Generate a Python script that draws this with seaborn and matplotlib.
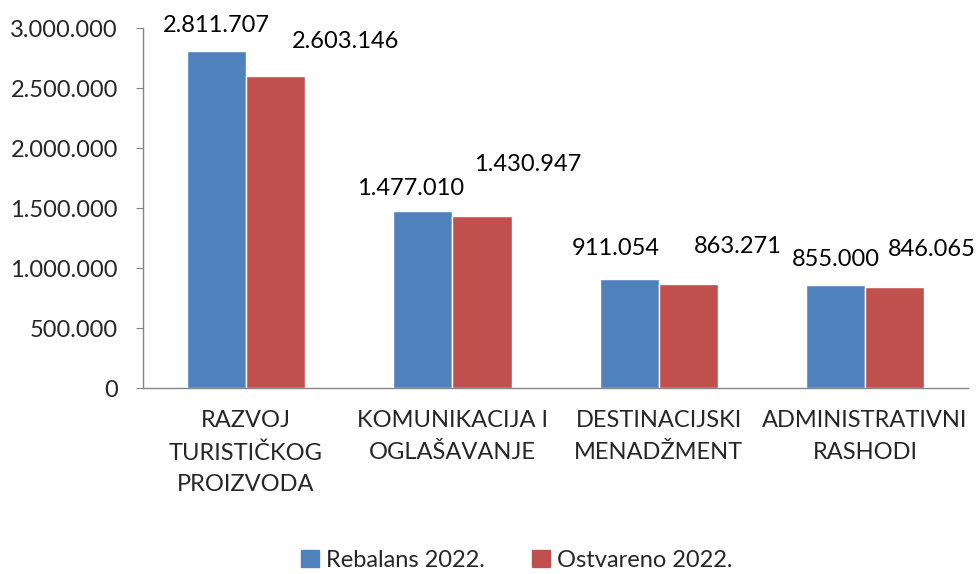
import matplotlib
matplotlib.use("Agg")
import matplotlib.pyplot as plt
import seaborn as sns
import pandas as pd

# podaci
categories = ["RAZVOJ\nTURISTIČKOG\nPROIZVODA", "KOMUNIKACIJA I\nOGLAŠAVANJE",
              "DESTINACIJSKI\nMENADŽMENT", "ADMINISTRATIVNI\nRASHODI"]
series_names = ["Rebalans 2022.", "Ostvareno 2022."]
rebalans = [2811707, 1477010, 911054, 855000]
ostvareno = [2603146, 1430947, 863271, 846065]
yticks = [0, 500000, 1000000, 1500000, 2000000, 2500000, 3000000]

colors = ["#4f81bd", "#c0504d"]

df = pd.DataFrame({
    "kategorija": categories * 2,
    "serija": [series_names[0]] * 4 + [series_names[1]] * 4,
    "iznos": rebalans + ostvareno,
})

def fmt(v):
    return f"{v:,.0f}".replace(",", ".")

sns.set_style("white")
plt.rcParams["font.family"] = ["Lato", "DejaVu Sans"]
FS = 17

fig = plt.figure(figsize=(9.79, 5.74), dpi=100)
ax = fig.add_axes([0.146, 0.324, 0.843, 0.627])

sns.barplot(data=df, x="kategorija", y="iznos", hue="serija", order=categories,
            hue_order=series_names, palette=colors, width=0.573, gap=0,
            saturation=1, ax=ax, legend=False)

ax.set_ylim(0, 3000000)
ax.set_xlim(-0.5, 3.5)
ax.set_yticks(yticks)
ax.set_yticklabels([fmt(t) for t in yticks], fontsize=FS)
ax.set_xlabel("")
ax.set_ylabel("")

# oznake vrijednosti (ručno pomaknute kao u originalu), u točkama
offsets = [[(0, 18), (50, 25)], [(-9, 16), (33, 37)],
           [(-10, 22), (36, 27)], [(0, 19), (27, 27)]]
for j, cont in enumerate(ax.containers):
    for i, bar in enumerate(cont):
        dx, dy = offsets[i][j]
        ax.annotate(fmt(bar.get_height()),
                    (bar.get_x() + bar.get_width() / 2, bar.get_height()),
                    xytext=(dx, dy), textcoords="offset points",
                    ha="center", va="center", fontsize=FS, color="black",
                    annotation_clip=False)

# osi
for s in ["top", "right"]:
    ax.spines[s].set_visible(False)
for s in ["left", "bottom"]:
    ax.spines[s].set_color("#868686")
    ax.spines[s].set_linewidth(1.0)

ax.set_xticks([0, 1, 2, 3])
ax.set_xticklabels(categories, fontsize=FS, linespacing=1.62)
ax.set_xticks([-0.5, 0.5, 1.5, 2.5, 3.5], minor=True)
ax.tick_params(axis="x", which="major", length=0, pad=16)
ax.tick_params(axis="x", which="minor", length=6, color="#868686", direction="out")
ax.tick_params(axis="y", length=5, color="#868686", direction="out", left=True, pad=13)

handles = [plt.Rectangle((0, 0), 1, 1, color=c) for c in colors]
fig.legend(handles, series_names, loc="center", bbox_to_anchor=(0.528, 0.024),
           ncol=2, frameon=False, fontsize=FS, handlelength=0.75, handleheight=0.75,
           handletextpad=0.3, columnspacing=2.0)

fig.savefig("out.png", dpi=100, facecolor="white")
